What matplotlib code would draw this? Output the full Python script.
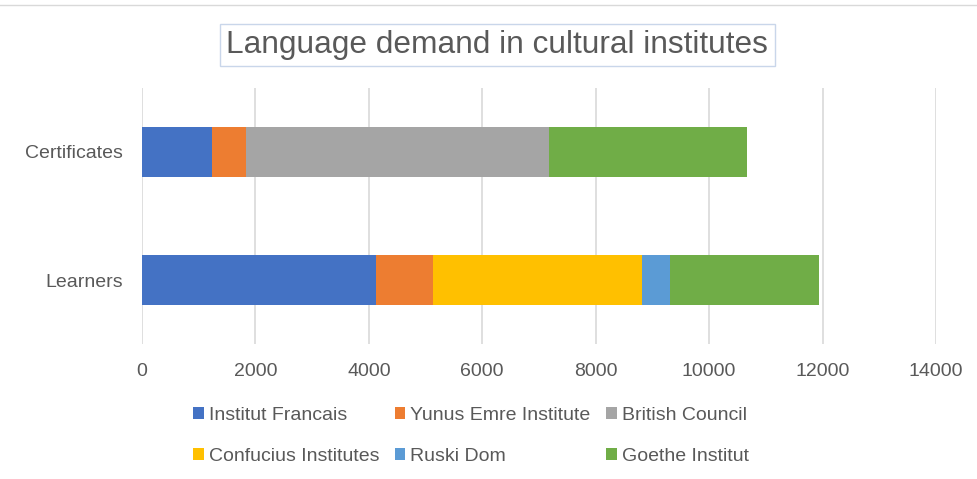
import numpy as np
import matplotlib
matplotlib.use("Agg")
import matplotlib.pyplot as plt
from matplotlib.lines import Line2D

plt.rcParams["font.family"] = ["Liberation Sans", "DejaVu Sans"]

# Data
categories = ["Learners", "Certificates"]
institutes = [
    "Institut Francais", "Yunus Emre Institute", "British Council",
    "Confucius Institutes", "Ruski Dom", "Goethe Institut",
]
learners = [4130, 1000, 0, 3680, 500, 2620]
certificates = [1240, 600, 5340, 0, 0, 3480]

COLOURS = ["#4472C4", "#ED7D31", "#A5A5A5", "#FFC000", "#5B9BD5", "#70AD47"]
TEXT = "#595959"

fig = plt.figure(figsize=(9.77, 4.79), dpi=100)
ax = fig.add_axes([0.1453, 0.2818, 0.8127, 0.5345])

y = np.arange(len(categories))
left = np.zeros(len(categories))
handles = []
for i, name in enumerate(institutes):
    vals = np.array([learners[i], certificates[i]])
    h = ax.barh(y, vals, left=left, height=0.39, color=COLOURS[i], label=name,
                edgecolor="none")
    handles.append(h)
    left += vals

ax.set_xlim(0, 14000)
ax.set_ylim(-0.5, 1.5)
ax.set_xticks(np.arange(0, 14001, 2000))
ax.set_yticks(y)
ax.set_yticklabels(categories)
ax.tick_params(axis="x", length=0, pad=14, labelsize=14, labelcolor=TEXT)
ax.tick_params(axis="y", length=0, pad=14, labelsize=14, labelcolor=TEXT)
ax.grid(axis="x", color="#D9D9D9", linewidth=1.2)
ax.set_axisbelow(True)
for s in ax.spines.values():
    s.set_visible(False)

# legend in row-major order like the original (matplotlib fills column-wise)
order = [0, 3, 1, 4, 2, 5]
fig.legend([handles[k] for k in order], [institutes[k] for k in order],
           ncol=3, loc="center", bbox_to_anchor=(0.482, 0.09), frameon=False,
           fontsize=14, labelcolor=TEXT, handlelength=0.55, handleheight=0.55,
           handletextpad=0.25, columnspacing=0.8, labelspacing=1.25)

fig.text(0.509, 0.906, "Language demand in cultural institutes", ha="center",
         va="center", fontsize=22.8, color=TEXT,
         bbox=dict(boxstyle="square,pad=0.2", fc="white", ec="#C9D6EA", lw=1))

fig.add_artist(Line2D([0, 1], [0.99, 0.99], color="#D9D9D9", lw=1,
                      transform=fig.transFigure))

fig.savefig("out.png", dpi=100)
